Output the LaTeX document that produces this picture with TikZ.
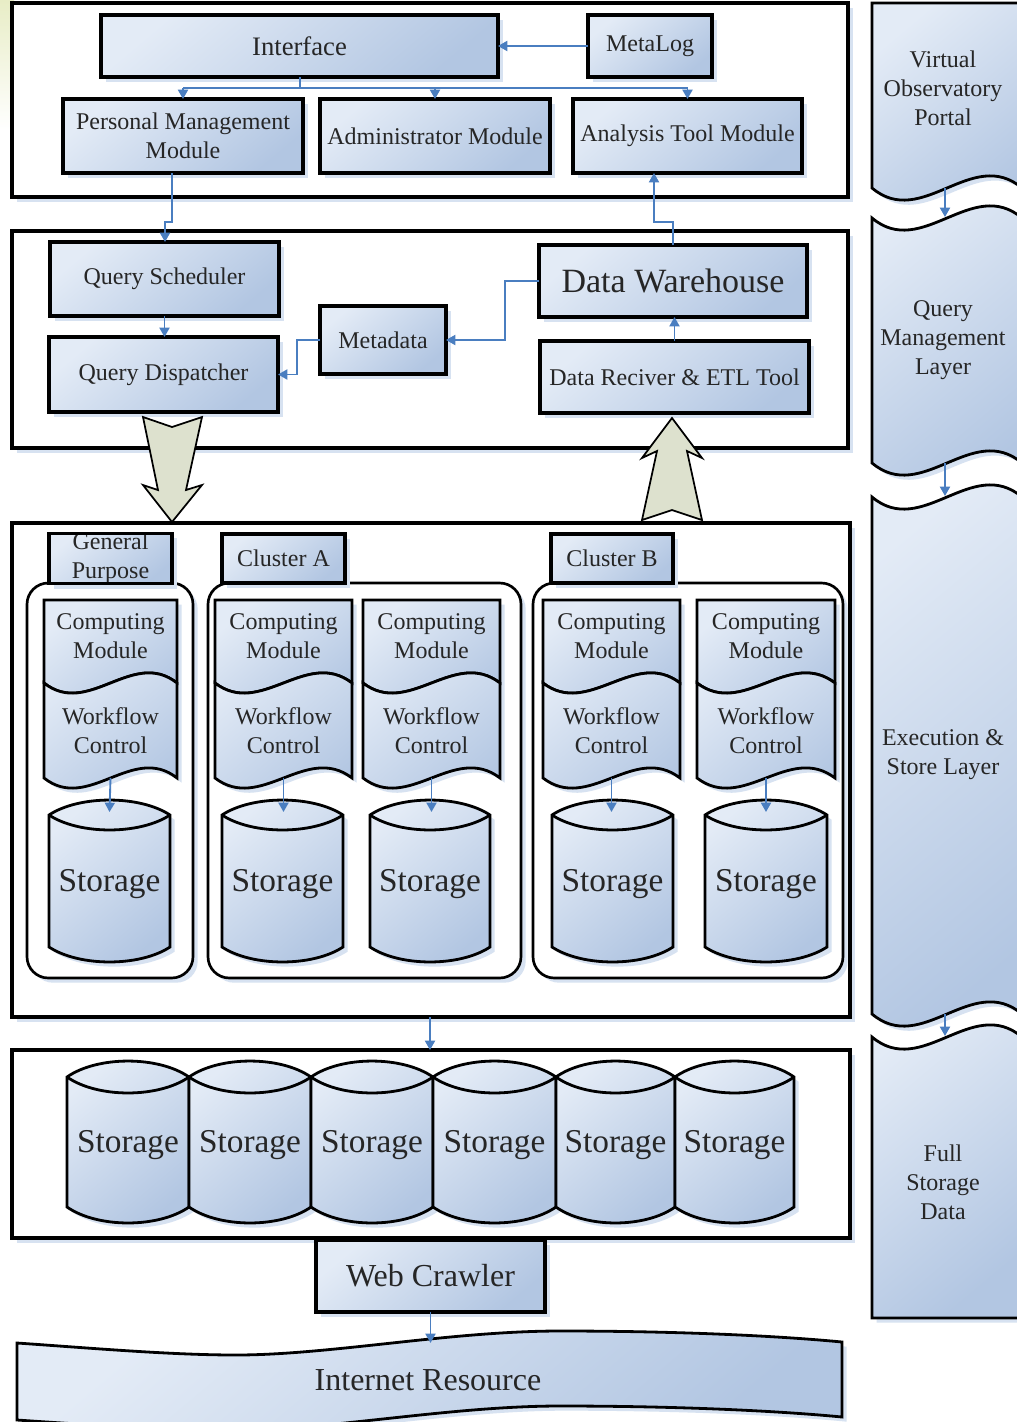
\documentclass[tikz,border=0pt]{standalone}
\usepackage{fontspec}
\setmainfont{Liberation Serif}
\usetikzlibrary{arrows.meta,shadows,calc}

\definecolor{boxlight}{HTML}{E3EBF6}
\definecolor{boxdark}{HTML}{B2C6E2}
\definecolor{shadowc}{HTML}{D7E2F1}
\definecolor{linkc}{HTML}{4A7EC0}
\definecolor{bigarrow}{HTML}{DDE1CE}
\definecolor{txt}{HTML}{262626}
\definecolor{tint}{HTML}{E8EDC6}

\tikzset{
  fillgrad/.style={top color=boxlight, bottom color=boxdark, shading angle=40},
  shad/.style={drop shadow={shadow xshift=3.5pt, shadow yshift=-3.5pt, fill=shadowc, opacity=1}},
  txtfont/.style={font=\fontsize{18}{21.75}\selectfont},
  bigfont/.style={font=\fontsize{25}{30}\selectfont},
  box/.style={draw=black, line width=2.4pt, fillgrad, shad, inner sep=0pt, outer sep=0pt,
    text=txt, align=center, txtfont},
  layer/.style={draw=black, line width=2.3pt, fill=white, shad, inner sep=0pt, outer sep=0pt},
  container/.style={draw=black, line width=2pt, fill=white, rounded corners=16pt, shad},
  shapeline/.style={draw=black, line width=2.1pt, fillgrad, shad},
  lbl/.style={text=txt, align=center, inner sep=0pt, txtfont},
  conn/.style={draw=linkc, line width=1.4pt, -{Triangle[length=7pt,width=7.5pt]}},
  link/.style={draw=linkc, line width=1.4pt},
  blockarrow/.style={draw=black, line width=1.3pt, fill=bigarrow},
}

% rectangle node given by its corners: [style]{name}{x1}{y1}{x2}{y2}{text}
\newcommand\mybox[7][box]{%
  \node[#1, minimum width={(#5-#3)*0.75pt}, minimum height={(#6-#4)*0.75pt}]
    (#2) at ({(#3+#5)/2},{(#4+#6)/2}) {#7};}

% computing module stacked on a workflow control block: {name}{x1}{x2}
\newcommand\compmod[3]{%
  \pgfmathsetmacro\modthird{(#3-#2)/3}
  \draw[shapeline] (#2,600) -- (#3,600) -- (#3,683)
    .. controls ({#3-\modthird},648) and ({#2+\modthird},718) .. (#2,683) -- cycle;
  \draw[shapeline] (#2,683) .. controls ({#2+\modthird},718) and ({#3-\modthird},648) .. (#3,683)
    -- (#3,778) .. controls ({#3-\modthird},743) and ({#2+\modthird},813) .. (#2,778) -- cycle;
  \node[lbl] (#1c) at ({(#2+#3)/2},636) {Computing\\Module};
  \node[lbl] (#1w) at ({(#2+#3)/2},731) {Workflow\\Control};
  \coordinate (#1b) at ({(#2+#3)/2},778);}

% storage cylinder: {name}{x1}{x2}{side top}{side bottom}{lid half height}
\newcommand\cyl[6]{%
  \pgfmathsetmacro\cylq{(#3-#2)/4}
  \draw[shapeline] (#2,#4) .. controls ({#2+\cylq},{#4-1.33*#6}) and ({#3-\cylq},{#4-1.33*#6}) .. (#3,#4)
    -- (#3,#5) .. controls ({#3-\cylq},{#5+1.33*#6}) and ({#2+\cylq},{#5+1.33*#6}) .. (#2,#5) -- cycle;
  \draw[black, line width=2.1pt] (#2,#4) .. controls ({#2+\cylq},{#4+1.33*#6}) and ({#3-\cylq},{#4+1.33*#6}) .. (#3,#4);
  \node[lbl, bigfont] (#1) at ({(#2+#3)/2},{(#4+#5)/2+3}) {Storage};
  \coordinate (#1top) at ({(#2+#3)/2},{#4-3});}

\begin{document}
\begin{tikzpicture}[x=0.75pt,y=-0.75pt]
\useasboundingbox (0,0) rectangle (1017,1422);
\clip (0,0) rectangle (1017,1422);
\fill[white] (0,0) rectangle (1017,1422);
\shade[top color=tint, bottom color=white] (0,0) rectangle (14,130);

% ---------- layer frames ----------
\mybox[layer]{portal}{12}{3}{848}{197}{}
\mybox[layer]{querylayer}{12}{231}{848}{448}{}
\mybox[layer]{execlayer}{12}{523}{850}{1017}{}
\mybox[layer]{storelayer}{12}{1050}{850}{1238}{}

% ---------- side bands ----------
\draw[shapeline] (872,3) -- (1022,3) -- (1022,188) .. controls (972,146) and (922,230) .. (872,188) -- cycle;
\draw[shapeline] (872,218) .. controls (922,260) and (972,176) .. (1022,218) -- (1022,463)
  .. controls (972,421) and (922,505) .. (872,463) -- cycle;
\draw[shapeline] (872,497) .. controls (922,539) and (972,455) .. (1022,497) -- (1022,1014)
  .. controls (972,972) and (922,1056) .. (872,1014) -- cycle;
\draw[shapeline] (872,1037) .. controls (922,1079) and (972,995) .. (1022,1037) -- (1022,1318) -- (872,1318) -- cycle;
\node[lbl] (band1) at (943,88) {Virtual\\Observatory\\Portal};
\node[lbl] (band2) at (943,340) {Query\\Management\\Layer};
\node[lbl] (band3) at (943,755) {Execution \&\\Store Layer};
\node[lbl] (band4) at (943,1182) {Full\\Storage\\Data};
\coordinate (b1s) at (945,188); \coordinate (b2s) at (945,217);
\coordinate (b2e) at (945,463); \coordinate (b3s) at (945,496);
\coordinate (b3e) at (945,1014); \coordinate (b4s) at (945,1036);
\draw[conn] (b1s) -- (b2s);
\draw[conn] (b2e) -- (b3s);
\draw[conn] (b3e) -- (b4s);

% ---------- portal layer ----------
\mybox[box, font=\fontsize{20}{24}\selectfont]{iface}{101}{15}{498}{77}{Interface}
\mybox{metalog}{588}{15}{712}{77}{MetaLog}
\mybox{pmm}{63}{99}{303}{173}{Personal Management\\Module}
\mybox{adm}{320}{99}{550}{173}{Administrator Module}
\mybox{atm}{573}{99}{802}{173}{Analysis Tool Module}

% ---------- query management layer ----------
\mybox{qs}{50}{242}{279}{316}{Query Scheduler}
\mybox{qd}{49}{337}{278}{412}{Query Dispatcher}
\mybox{meta}{320}{306}{446}{374}{Metadata}
\mybox[box, font=\fontsize{25.5}{30}\selectfont]{dw}{539}{245}{807}{317}{Data Warehouse}
\mybox{etl}{540}{341}{809}{413}{Data Reciver \& ETL Tool}

% ---------- connectors (upper layers) ----------
\draw[conn] (metalog.west) -- (iface.east |- metalog.west);
\coordinate (bus) at (300,88);
\draw[link] (iface.south -| bus) -- (bus);
\draw[link] (pmm.north |- bus) -- (atm.north |- bus);
\draw[conn] (pmm.north |- bus) -- (pmm.north);
\draw[conn] (adm.north |- bus) -- (adm.north);
\draw[conn] (atm.north |- bus) -- (atm.north);

\coordinate (j1) at (172,222); \coordinate (j2) at (165,222);
\draw[conn] (pmm.south -| j1) -- (j1) -- (j2) -- (qs.north -| j2);
\draw[conn] (qs.south) -- (qd.north -| qs.south);
\coordinate (k1) at (505,340);
\draw[conn] (dw.west) -| (k1) -- (meta.east);
\coordinate (k2) at (297,340);
\draw[conn] (meta.west) -- (k2) |- (qd.east);
\draw[conn] (etl.north) -- (dw.south -| etl.north);
\coordinate (k3) at (673,222); \coordinate (k4) at (654,222);
\draw[conn] (dw.north -| k3) -- (k3) -- (k4) -- (atm.south -| k4);

% ---------- block arrows between layers ----------
\draw[blockarrow] (143,417) -- (172,427) -- (202,417) -- (186,490) -- (202,485) -- (172,522)
  -- (143,485) -- (158,490) -- cycle;
\draw[blockarrow] (672,418) -- (702,458) -- (687,451) -- (702,520) -- (672,510) -- (642,520)
  -- (657,451) -- (642,458) -- cycle;

% ---------- execution & store layer ----------
\draw[container] (27,583) rectangle (193,978);
\draw[container] (208,583) rectangle (521,978);
\draw[container] (533,583) rectangle (843,978);
\mybox{gptab}{49}{534}{172}{583}{General\\Purpose}
\draw[black, line width=2.4pt] (gptab.north west) rectangle (gptab.south east);
\mybox{catab}{222}{534}{345}{583}{Cluster A}
\mybox{cbtab}{551}{534}{673}{583}{Cluster B}

\compmod{gp}{44}{177}
\compmod{caone}{215}{352}
\compmod{catwo}{363}{500}
\compmod{cbone}{543}{680}
\compmod{cbtwo}{697}{835}

\cyl{sgp}{49}{170}{815}{947}{15}
\cyl{saone}{222}{343}{815}{947}{15}
\cyl{satwo}{370}{490}{815}{947}{15}
\cyl{sbone}{552}{673}{815}{947}{15}
\cyl{sbtwo}{705}{827}{815}{947}{15}

\draw[conn] (gpb) -- (sgptop);
\draw[conn] (caoneb) -- (saonetop -| caoneb);
\draw[conn] (catwob) -- (satwotop -| catwob);
\draw[conn] (cboneb) -- (sbonetop -| cboneb);
\draw[conn] (cbtwob) -- (sbtwotop -| cbtwob);

\coordinate (c34) at (430,1030);
\draw[conn] (execlayer.south -| c34) -- (storelayer.north -| c34);

% ---------- full storage layer ----------
\cyl{rone}{67}{189}{1077}{1207}{16}
\cyl{rtwo}{189}{311}{1077}{1207}{16}
\cyl{rthree}{311}{433}{1077}{1207}{16}
\cyl{rfour}{433}{556}{1077}{1207}{16}
\cyl{rfive}{556}{675}{1077}{1207}{16}
\cyl{rsix}{675}{794}{1077}{1207}{16}

\mybox[box, font=\fontsize{24}{28}\selectfont]{crawler}{316}{1240}{545}{1312}{Web Crawler}

% internet resource banner
\draw[shapeline] (17,1343) .. controls (90,1348) and (170,1355) .. (236,1355)
  .. controls (330,1355) and (450,1331) .. (560,1331)
  .. controls (680,1331) and (780,1336) .. (842,1342)
  -- (842,1417) .. controls (780,1411) and (680,1406) .. (560,1406)
  .. controls (450,1406) and (330,1430) .. (236,1430)
  .. controls (170,1430) and (90,1425) .. (17,1420) -- cycle;
\node[lbl, font=\fontsize{24}{28}\selectfont] (net) at (428,1380) {Internet Resource};
\coordinate (nettop) at (430,1343);
\draw[conn] (crawler.south) -- (crawler.south |- nettop);
\end{tikzpicture}
\end{document}
